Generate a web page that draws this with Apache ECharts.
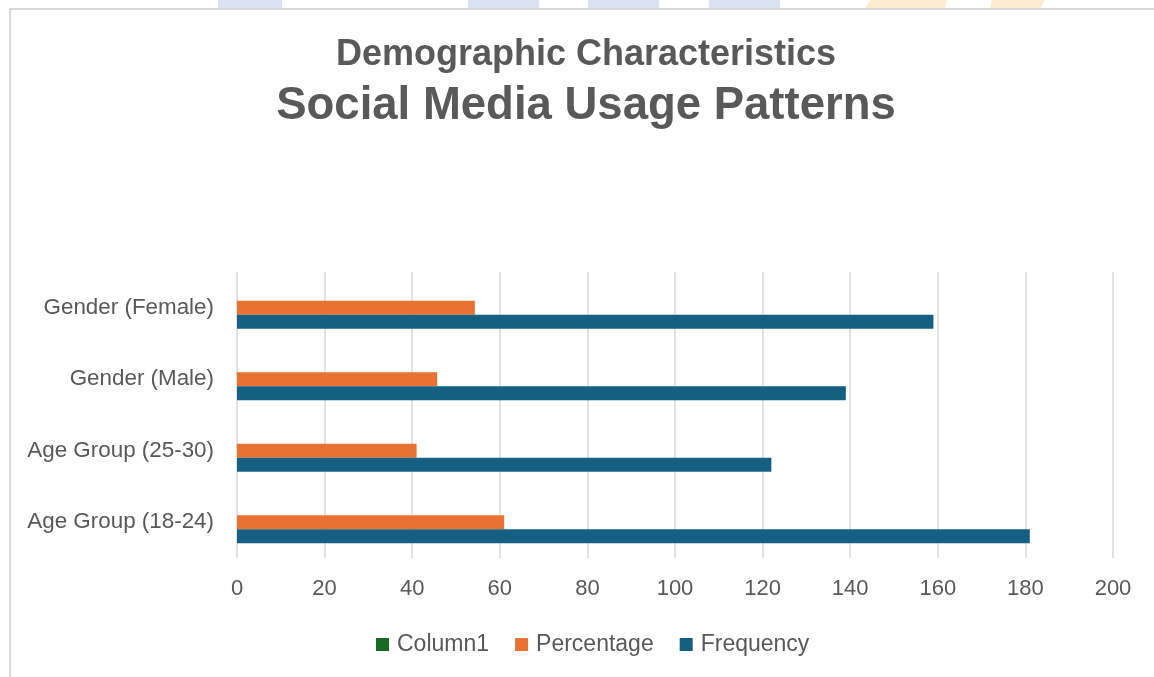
<!DOCTYPE html>
<html>
<head>
<meta charset="utf-8">
<script src="https://cdn.jsdelivr.net/npm/echarts@6/dist/echarts.min.js"></script>
<style>
html,body{margin:0;padding:0;background:#fff;}
#chart{width:1154px;height:677px;}
</style>
</head>
<body>
<div id="chart"></div>
<script>
const categories = ['Age Group (18-24)', 'Age Group (25-30)', 'Gender (Male)', 'Gender (Female)'];
const frequency = [181, 122, 139, 159];
const percentage = [61, 41, 45.7, 54.3];
const column1 = [null, null, null, null];
const xTicks = [0, 20, 40, 60, 80, 100, 120, 140, 160, 180, 200];
const titleLine1 = 'Demographic Characteristics';
const titleLine2 = 'Social Media Usage Patterns';

const FONT = '"Liberation Sans", Arial, sans-serif';
const TXT = '#595959';

const chart = echarts.init(document.getElementById('chart'), null, {renderer: 'canvas'});
chart.setOption({
  animation: false,
  backgroundColor: '#ffffff',
  graphic: [
    {type: 'rect', z: -10, shape: {x: 218, y: 0, width: 64, height: 9}, style: {fill: '#dae1f1'}},
    {type: 'rect', z: -10, shape: {x: 468, y: 0, width: 71, height: 9}, style: {fill: '#dae1f1'}},
    {type: 'rect', z: -10, shape: {x: 588, y: 0, width: 71, height: 9}, style: {fill: '#dae1f1'}},
    {type: 'rect', z: -10, shape: {x: 709, y: 0, width: 71, height: 9}, style: {fill: '#dae1f1'}},
    {type: 'polygon', z: -10, shape: {points: [[870,0],[947,0],[945,9],[865,9]]}, style: {fill: '#fdebd0'}},
    {type: 'polygon', z: -10, shape: {points: [[992,0],[1045,0],[1040,9],[990,9]]}, style: {fill: '#fdebd0'}},
    {type: 'rect', z: -9, shape: {x: 10, y: 9, width: 1160, height: 690}, style: {fill: '#ffffff', stroke: '#d9d9d9', lineWidth: 2}},
    {type: 'text', z: 10, x: 586, y: 55,
     style: {text: titleLine1, fill: TXT, font: 'bold 36px ' + FONT, textAlign: 'center', textVerticalAlign: 'middle'}},
    {type: 'text', z: 10, x: 586, y: 106,
     style: {text: titleLine2, fill: TXT, font: 'bold 45.5px ' + FONT, textAlign: 'center', textVerticalAlign: 'middle'}}
  ],
  legend: {
    data: ['Column1', 'Percentage', 'Frequency'],
    left: 371,
    top: 628,
    itemWidth: 13,
    itemHeight: 13,
    itemGap: 26,
    icon: 'rect',
    textStyle: {fontFamily: FONT, fontSize: 23, color: TXT, padding: [0, 0, 0, 3]}
  },
  grid: {left: 237, right: 41, top: 272, bottom: 119, containLabel: false},
  xAxis: {
    type: 'value',
    min: 0, max: 200, interval: 20,
    axisLine: {show: false},
    axisTick: {show: false},
    axisLabel: {fontFamily: FONT, fontSize: 22, color: TXT, margin: 20,
      formatter: v => xTicks.includes(v) ? String(v) : ''},
    splitLine: {show: true, lineStyle: {color: '#d9d9d9', width: 1.5}}
  },
  yAxis: {
    type: 'category',
    data: categories,
    axisLine: {show: false},
    axisTick: {show: false},
    splitLine: {show: false},
    axisLabel: {fontFamily: FONT, fontSize: 22.4, color: TXT, margin: 23}
  },
  series: [
    {name: 'Column1', type: 'bar', data: column1, barWidth: 14, barGap: '0%',
     itemStyle: {color: '#196B24'}},
    {name: 'Percentage', type: 'bar', data: percentage, barWidth: 14, barGap: '0%',
     itemStyle: {color: '#E97132'}},
    {name: 'Frequency', type: 'bar', data: frequency, barWidth: 14, barGap: '0%',
     itemStyle: {color: '#156082'}}
  ]
});
</script>
</body>
</html>
